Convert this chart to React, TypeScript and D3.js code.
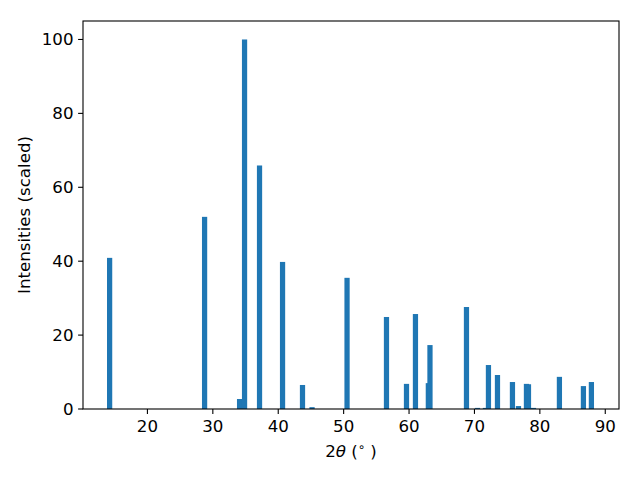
import React from "react";
import * as d3 from "d3";

const positions = [14.22, 28.74, 34.09, 34.85, 37.14, 40.66, 43.71, 45.17, 50.52, 56.55, 59.61, 60.98, 62.95, 63.2, 68.78, 70.46, 71.68, 72.14, 73.52, 75.81, 76.73, 77.95, 78.26, 79.02, 82.99, 86.66, 87.88];
const intensities = [40.9, 52.0, 2.7, 100, 65.9, 39.8, 6.5, 0.5, 35.5, 24.9, 6.8, 25.7, 7.0, 17.3, 27.6, 0.3, 0.3, 11.9, 9.2, 7.3, 0.8, 6.8, 6.7, 0.3, 8.7, 6.2, 7.3];
const xTicks = [20, 30, 40, 50, 60, 70, 80, 90];
const yTicks = [0, 20, 40, 60, 80, 100];
const barWidth = 0.8;

const W = 640, H = 480;
const L = 83, R = 619, T = 21, B = 409;
const FONT = "DejaVu Sans, sans-serif";
const FS = 16.67;
const COLOR = "#1f77b4";

export default function App() {
  const x = d3.scaleLinear().domain([10.15, 92.1]).range([L, R]);
  const y = d3.scaleLinear().domain([0, 105]).range([B, T]);
  const bars = positions.map((p, i) => ({ p, v: intensities[i] }));
  return (
    <svg width={W} height={H} style={{ position: "absolute", left: 0, top: 0, background: "#fff" }} fontFamily={FONT}>
      <rect x={0} y={0} width={W} height={H} fill="#fff" />
      {bars.map((d, i) => (
        <rect key={i} x={x(d.p - barWidth / 2)} width={x(d.p + barWidth / 2) - x(d.p - barWidth / 2)} y={y(d.v)} height={y(0) - y(d.v)} fill={COLOR} />
      ))}
      <rect x={L} y={T} width={R - L} height={B - T} fill="none" stroke="#000" strokeWidth={1.1} />
      {xTicks.map((t) => (
        <g key={t}>
          <line x1={x(t)} x2={x(t)} y1={B} y2={B + 4.9} stroke="#000" strokeWidth={1.1} />
          <text x={x(t)} y={432} fontSize={FS} textAnchor="middle" fill="#000">{t}</text>
        </g>
      ))}
      {yTicks.map((t) => (
        <g key={t}>
          <line x1={L - 4.9} x2={L} y1={y(t)} y2={y(t)} stroke="#000" strokeWidth={1.1} />
          <text x={73.5} y={y(t) + 6} fontSize={FS} textAnchor="end" fill="#000">{t}</text>
        </g>
      ))}
      <text x={(L + R) / 2} y={456.5} fontSize={FS} textAnchor="middle" fill="#000">
        <tspan>2</tspan>
        <tspan fontStyle="italic">θ</tspan>
        <tspan> (</tspan>
        <tspan fontSize={FS * 0.7} dy={-6}>{"\u2218"}</tspan>
        <tspan dy={6}> )</tspan>
      </text>
      <text transform={`translate(30,${(T + B) / 2}) rotate(-90)`} fontSize={FS} textAnchor="middle" fill="#000">Intensities (scaled)</text>
    </svg>
  );
}
